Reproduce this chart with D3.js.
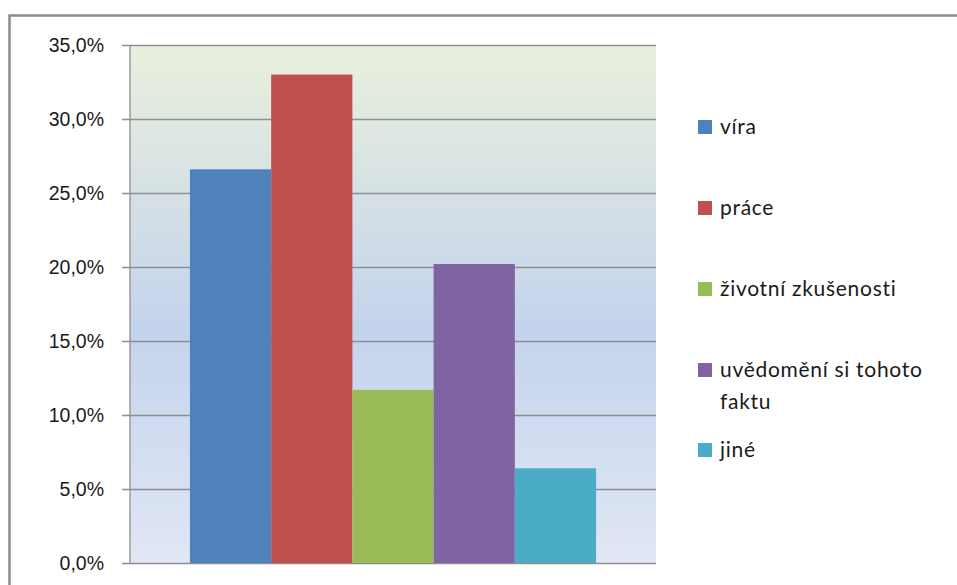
<!DOCTYPE html>
<html>
<head>
<meta charset="utf-8">
<script src="https://cdn.jsdelivr.net/npm/d3@7"></script>
<style>
  html, body { margin: 0; padding: 0; background: #fff; }
  svg { display: block; font-family: Lato, "Open Sans", sans-serif; }
</style>
</head>
<body>
<div id="chart"></div>
<script>
'use strict';

// data (share of answers, %)
var categories = ["víra", "práce", "životní zkušenosti", "uvědomění si tohoto faktu", "jiné"];
var values = [26.6, 33.0, 11.7, 20.2, 6.4];
var colors = ["#4f81bd", "#c0504d", "#9bbb59", "#8064a2", "#4bacc6"];
var yTicks = [0, 5, 10, 15, 20, 25, 30, 35];
// legend lines (long label wraps in two)
var legendLines = [["víra"], ["práce"], ["životní zkušenosti"], ["uvědomění si tohoto", "faktu"], ["jiné"]];

(function() {
    var W = 957, H = 585;
    var plot = { left: 130, right: 656, top: 45, bottom: 563 };

    var svg = d3.select("#chart").append("svg")
        .attr("width", W)
        .attr("height", H);

    // gradient of the plot area
    var grad = svg.append("defs").append("linearGradient")
        .attr("id", "bg")
        .attr("x1", 0).attr("y1", 0).attr("x2", 0).attr("y2", 1);
    grad.append("stop").attr("offset", "0%").attr("stop-color", "#e9f0dc");
    grad.append("stop").attr("offset", "55%").attr("stop-color", "#c4d3ed");
    grad.append("stop").attr("offset", "100%").attr("stop-color", "#e0e7f5");

    // outer frame (right and bottom run off the picture)
    svg.append("rect")
        .attr("x", 9.5).attr("y", 15.5)
        .attr("width", W + 20).attr("height", H + 20)
        .attr("fill", "none")
        .attr("stroke", "#8c8c8c")
        .attr("stroke-width", 2.5);

    var y = d3.scaleLinear()
        .domain([0, 35])
        .range([plot.bottom, plot.top]);

    // one category, the series side by side (gap width ~150%)
    var x = d3.scaleBand()
        .domain(categories)
        .range([plot.left, plot.right])
        .paddingInner(0)
        .paddingOuter(0.738);

    svg.append("rect")
        .attr("x", plot.left).attr("y", plot.top)
        .attr("width", plot.right - plot.left)
        .attr("height", plot.bottom - plot.top)
        .attr("fill", "url(#bg)");

    // gridlines + ticks
    var yAxis = d3.axisLeft(y)
        .tickValues(yTicks)
        .tickSize(-(plot.right - plot.left))
        .tickPadding(26)
        .tickFormat(function(d) { return d.toFixed(1).replace(".", ",") + "%"; });

    var gy = svg.append("g")
        .attr("transform", "translate(" + plot.left + ",0)")
        .call(yAxis);
    gy.select(".domain").remove();
    gy.selectAll(".tick line")
        .attr("stroke", "#8e8e8e")
        .attr("stroke-width", 1.3)
        .attr("x1", -8);
    gy.selectAll(".tick text")
        .attr("fill", "#1a1a1a")
        .style("font-size", "19.5px");

    // value axis line
    svg.append("line")
        .attr("x1", plot.left).attr("x2", plot.left)
        .attr("y1", plot.top).attr("y2", plot.bottom)
        .attr("stroke", "#8e8e8e")
        .attr("stroke-width", 1.3);

    svg.append("g").selectAll("rect")
        .data(values)
        .enter().append("rect")
        .attr("x", function(d, i) { return x(categories[i]); })
        .attr("width", x.bandwidth())
        .attr("y", function(d) { return y(d); })
        .attr("height", function(d) { return y(0) - y(d); })
        .attr("fill", function(d, i) { return colors[i]; });

    // legend
    var lg = svg.append("g").attr("transform", "translate(698,0)");
    var rowY = [127, 208, 289, 370, 450];
    var items = lg.selectAll("g")
        .data(legendLines)
        .enter().append("g")
        .attr("transform", function(d, i) { return "translate(0," + rowY[i] + ")"; });
    items.append("rect")
        .attr("x", 0).attr("y", -7)
        .attr("width", 14).attr("height", 14)
        .attr("fill", function(d, i) { return colors[i]; });
    items.append("text")
        .attr("x", 22)
        .attr("fill", "#1a1a1a")
        .style("font-size", "21px")
        .style("letter-spacing", "0.7px")
        .selectAll("tspan")
        .data(function(d) { return d; })
        .enter().append("tspan")
        .attr("x", 22)
        .attr("y", function(d, i) { return 7 + i * 32; })
        .text(function(d) { return d; });
})();
</script>
</body>
</html>
